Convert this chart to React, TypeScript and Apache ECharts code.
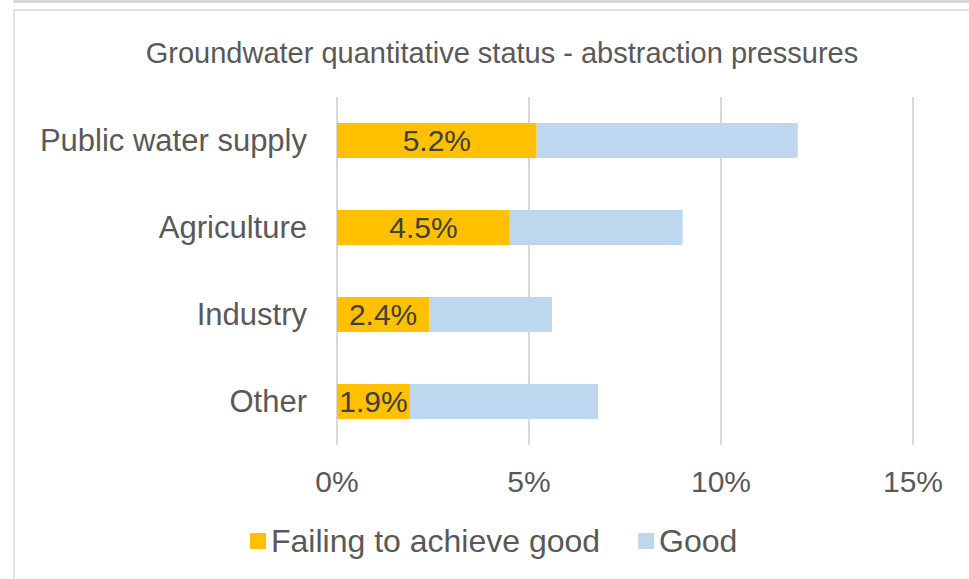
import React, { useEffect, useRef } from "react";
import * as echarts from "echarts";

const categories = ["Public water supply", "Agriculture", "Industry", "Other"];
const failing = [5.2, 4.5, 2.4, 1.9];
const good = [6.8, 4.5, 3.2, 4.9];
const xTicks = [0, 5, 10, 15];
const titleText = "Groundwater quantitative status - abstraction pressures";
const seriesNames = ["Failing to achieve good", "Good"];

export default function App() {
  const ref = useRef<HTMLDivElement>(null);
  useEffect(() => {
    document.body.style.margin = "0";
    const chart = echarts.init(ref.current!, null, { renderer: "svg" });
    const font = "'Liberation Sans', Arial, sans-serif";
    chart.setOption({
      animation: false,
      backgroundColor: "#ffffff",
      textStyle: { fontFamily: font },
      title: {
        text: titleText,
        left: 497,
        textAlign: "center",
        top: 33,
        textStyle: { fontFamily: font, fontSize: 29, fontWeight: "normal", color: "#595959" },
      },
      graphic: [
        { type: "rect", shape: { x: 13, y: 0, width: 960, height: 3 }, style: { fill: "#d9d9d9" } },
        { type: "line", shape: { x1: 14, y1: 10, x2: 969, y2: 10 }, style: { stroke: "#d9d9d9", lineWidth: 1.5 } },
        { type: "line", shape: { x1: 14, y1: 10, x2: 14, y2: 579 }, style: { stroke: "#d9d9d9", lineWidth: 1.5 } },
      ],
      legend: {
        data: seriesNames,
        bottom: 17,
        left: 245,
        itemWidth: 16,
        itemHeight: 16,
        itemGap: 38,
        icon: "rect",
        textStyle: { fontFamily: font, fontSize: 32, color: "#595959" },
      },
      grid: { left: 337, right: 56, top: 97, height: 348, containLabel: false },
      xAxis: {
        type: "value",
        min: 0,
        max: 15,
        interval: 5,
        axisLine: { show: false },
        axisTick: { show: false },
        splitLine: { show: true, lineStyle: { color: "#d9d9d9", width: 2 } },
        axisLabel: {
          formatter: (v: number) => (xTicks.includes(v) ? v + "%" : ""),
          fontFamily: font,
          fontSize: 30,
          color: "#595959",
          margin: 21,
        },
      },
      yAxis: {
        type: "category",
        data: categories,
        inverse: true,
        axisLine: { show: false },
        axisTick: { show: false },
        axisLabel: { fontFamily: font, fontSize: 31, color: "#595959", margin: 30 },
      },
      series: [
        {
          name: seriesNames[0],
          type: "bar",
          stack: "s",
          data: failing,
          barWidth: 35,
          itemStyle: { color: "#ffc000" },
          label: {
            show: true,
            position: "inside",
            formatter: (p: any) => p.value.toFixed(1) + "%",
            fontFamily: font,
            fontSize: 30,
            color: "#404040",
          },
        },
        {
          name: seriesNames[1],
          type: "bar",
          stack: "s",
          data: good,
          barWidth: 35,
          itemStyle: { color: "#bdd7ee" },
        },
      ],
    });
    return () => chart.dispose();
  }, []);
  return <div ref={ref} style={{ width: 969, height: 579 }} />;
}
